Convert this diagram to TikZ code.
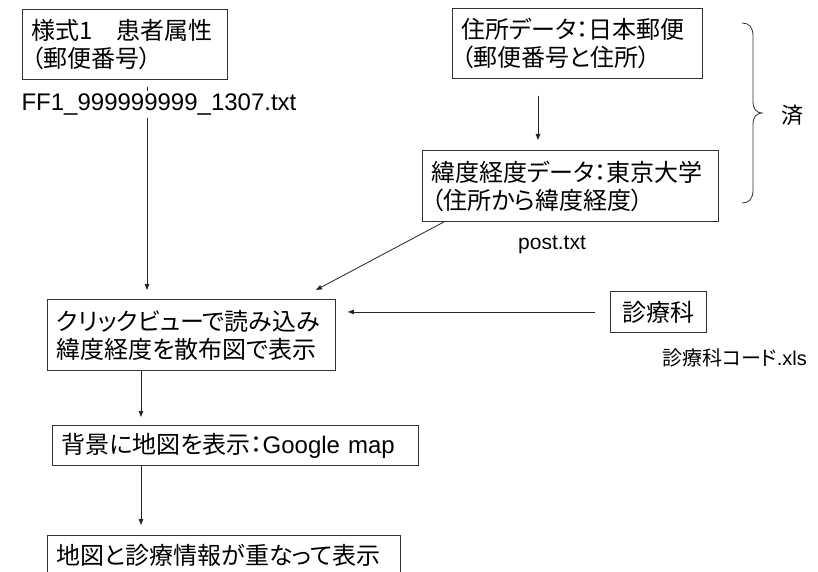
\documentclass[tikz,border=0pt]{standalone}
\usepackage{fontspec}
\setmainfont{Liberation Sans}
\newfontfamily\cjk[RawFeature=+palt]{Noto Sans CJK JP}
\usetikzlibrary{arrows.meta,calc}
\begin{document}
\begin{tikzpicture}[x=1pt,y=-1pt,
  box/.style={draw=black!80, line width=0.9pt, inner xsep=9pt, inner ysep=0pt, anchor=north west, align=left, font=\cjk\fontsize{24}{28}\selectfont},
  arr/.style={draw=black!85, line width=0.8pt, -{Triangle[length=6pt,width=4.5pt]}},
  ln/.style={draw=black!85, line width=0.8pt},
  lbl/.style={inner sep=0pt}]
\useasboundingbox (0,0) rectangle (818,572);
\clip (0,0) rectangle (818,572);
\fill[white] (0,0) rectangle (818,572);

\node[box, text width=187pt, minimum height=70pt] (b1) at (22,9) {様式1　患者属性\\（郵便番号）};
\node[box, text width=232pt, minimum height=70pt] (b2) at (452,8) {住所データ：日本郵便\\（郵便番号と住所）};
\node[box, text width=278pt, minimum height=71pt] (b4) at (422,150) {緯度経度データ：東京大学\\（住所から緯度経度）};
\node[box, text width=270pt, minimum height=71pt] (b5) at (47,299) {クリックビューで読み込み\\緯度経度を散布図で表示};
\node[box, align=center, text width=78pt, minimum height=41pt] (b6) at (610,291) {診療科};
\node[box, text width=348pt, minimum height=40pt] (b7) at (52,425) {背景に地図を表示：{\rmfamily Google map}};
\node[box, text width=335pt, minimum height=40pt] (b8) at (47,535) {地図と診療情報が重なって表示};

\node[lbl, font=\fontsize{24}{24}\selectfont, text height=17pt, text depth=5pt, inner xsep=2pt] (ff) at (159,105) {FF1\_999999999\_1307.txt};
\node[lbl, font=\fontsize{21}{21}\selectfont] (post) at (552,245) {post.txt};
\node[lbl, anchor=west, font=\cjk\fontsize{20}{20}\selectfont] (code) at (662,358) {診療科コード{\rmfamily .xls}};
\node[lbl, font=\cjk\fontsize{22}{22}\selectfont] (sumi) at (792,115) {済};

\coordinate (c1) at ($(b1.south west)+(125,0)$);
\draw[ln, shorten <=7pt, shorten >=3pt] (c1) -- (c1 |- ff.north);
\draw[arr, shorten <=2pt, shorten >=9pt] (c1 |- ff.south) -- (c1 |- b5.north);
\coordinate (c2) at ($(b2.south west)+(86,0)$);
\draw[arr, shorten <=17pt, shorten >=10pt] (c2) -- (c2 |- b4.north);
\draw[arr] ($(b4.south west)+(22,0)$) -- ($(b5.north east)+(-20,-9)$);
\draw[arr, shorten <=15pt, shorten >=12pt] (b6.west) -- (b6.west -| b5.east);
\coordinate (c3) at ($(b5.south west)+(94,0)$);
\draw[arr, shorten >=8pt] (c3) -- (c3 |- b7.north);
\draw[arr, shorten >=10pt] (c3 |- b7.south) -- (c3 |- b8.north);

\draw[black!80, line width=0.8pt] (742,23) .. controls (749,23) and (753,27) .. (753,36) -- (753,101) .. controls (753,109) and (756,113) .. (763,113) .. controls (756,113) and (753,117) .. (753,125) -- (753,190) .. controls (753,199) and (749,203) .. (742,203);
\end{tikzpicture}
\end{document}
